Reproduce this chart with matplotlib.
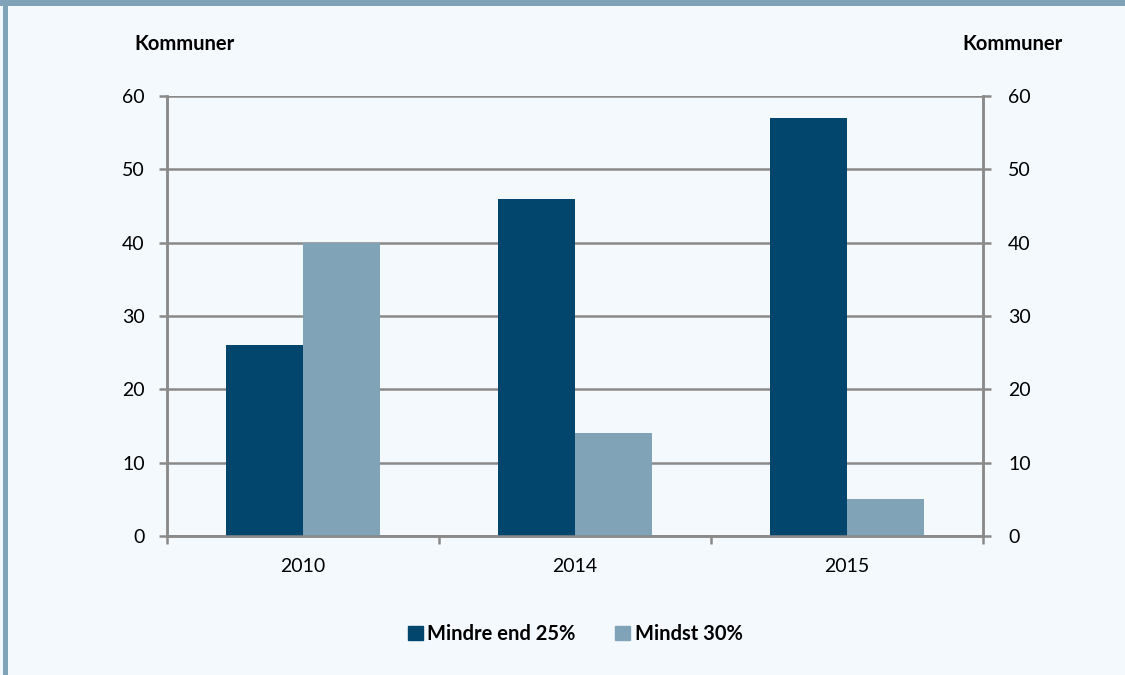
import numpy as np
import matplotlib.pyplot as plt
from matplotlib.patches import Rectangle, Patch

plt.switch_backend('agg')
plt.rcParams['font.family'] = ['Lato', 'DejaVu Sans']

years = ["2010", "2014", "2015"]
mindre_end_25 = [26, 46, 57]
mindst_30 = [40, 14, 5]
series_names = ["Mindre end 25%", "Mindst 30%"]

dark = "#02466d"
light = "#80a3b7"
bg = "#f4f9fd"
grey = "#8a8a8a"

W, H = 1125, 675
fig = plt.figure(figsize=(W / 100, H / 100), dpi=100, facecolor=bg)

# frame strips (top band + left bar)
fig.add_artist(Rectangle((0, 1 - 6 / H), 1, 6 / H, transform=fig.transFigure,
                         color=light, lw=0, zorder=0))
fig.add_artist(Rectangle((3 / W, 0), 5 / W, 1, transform=fig.transFigure,
                         color=light, lw=0, zorder=0))

ax = fig.add_axes([167 / W, 1 - 536 / H, (983 - 167) / W, (536 - 96) / H])
ax.set_facecolor(bg)

x = np.arange(len(years))
bw = 0.283
ax.bar(x - bw / 2, mindre_end_25, width=bw, color=dark, zorder=3)
ax.bar(x + bw / 2, mindst_30, width=bw, color=light, zorder=3)

ax.set_xlim(-0.5, 2.5)
ax.set_ylim(0, 60)
ax.set_yticks(range(0, 61, 10))
ax.yaxis.grid(True, color=grey, lw=1.8, zorder=1)
ax.set_axisbelow(True)

ax.set_xticks(x)
ax.set_xticklabels(years, fontsize=14)
ax.set_xticks([-0.5, 0.5, 1.5, 2.5], minor=True)
ax.tick_params(axis='x', which='major', length=0, pad=16)
ax.tick_params(axis='x', which='minor', length=6, width=1.8, color=grey)
ax.tick_params(axis='y', length=6, width=1.8, color=grey, labelsize=14, pad=10)

# right-hand axis, same scale
ax2 = ax.twinx()
ax2.set_ylim(ax.get_ylim())
ax2.set_yticks(range(0, 61, 10))
ax2.tick_params(axis='y', length=6, width=1.8, color=grey, labelsize=14, pad=12)

for a in (ax, ax2):
    for side in ['left', 'right', 'bottom']:
        a.spines[side].set_color(grey)
        a.spines[side].set_linewidth(1.8)
    a.spines['top'].set_visible(False)

fig.text(185 / W, 1 - 44 / H, "Kommuner", ha='center', va='center',
         fontsize=14.5, fontweight='bold')
fig.text(1012 / W, 1 - 44 / H, "Kommuner", ha='center', va='center',
         fontsize=14.5, fontweight='bold')

handles = [Patch(color=dark), Patch(color=light)]
fig.legend(handles, series_names, loc='center', bbox_to_anchor=(575 / W, 1 - 634 / H),
           ncol=2, frameon=False, prop={'weight': 'bold', 'size': 14.5},
           handlelength=0.75, handleheight=0.75, handletextpad=0.2, columnspacing=2.0)

fig.savefig("out.png", dpi=100, facecolor=bg)
